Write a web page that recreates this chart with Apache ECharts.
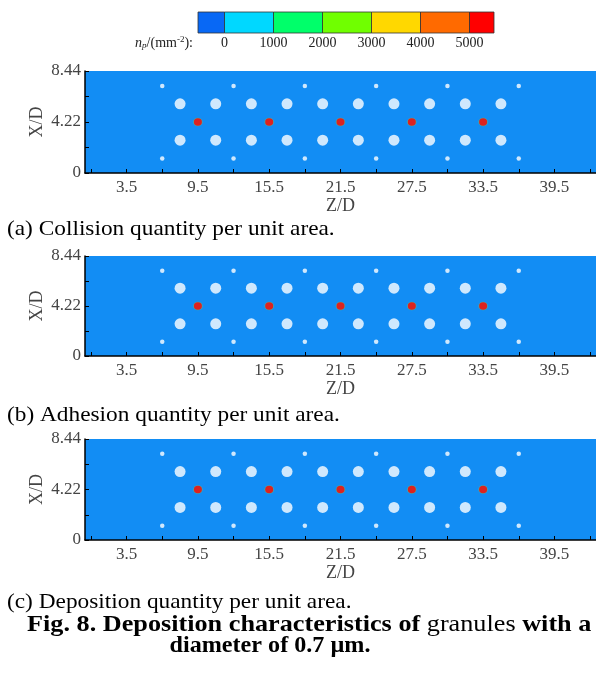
<!DOCTYPE html>
<html>
<head>
<meta charset="utf-8">
<script src="https://cdn.jsdelivr.net/npm/echarts@6/dist/echarts.min.js"></script>
<style>html,body{margin:0;padding:0;background:#fff;}#c{width:596px;height:677px;}</style>
</head>
<body>
<div id="c"></div>
<script>
// ---- data ----
const zTickLabels = [3.5, 9.5, 15.5, 21.5, 27.5, 33.5, 39.5];
const zTickMarks = [0.5, 3.5, 6.5, 9.5, 12.5, 15.5, 18.5, 21.5, 24.5, 27.5, 30.5, 33.5, 36.5, 39.5, 42.5];
const xTickLabels = [0, 4.22, 8.44];
const xTickMarks = [0, 2.11, 4.22, 6.33, 8.44];
const largeHoleZ = [8, 11, 14, 17, 20, 23, 26, 29, 32, 35];
const largeHoleX = [5.72, 2.72];
const smallHoleZ = [6.5, 12.5, 18.5, 24.5, 30.5, 36.5];
const smallHoleX = [7.2, 1.2];
const spotZ = [9.5, 15.5, 21.5, 27.5, 33.5];
const spotX = 4.22;
const collisionSpots = [5400, 5400, 5400, 5400, 5400];
const adhesionSpots = [5400, 5400, 5400, 5400, 5400];
const depositionSpots = [5400, 5400, 5400, 5400, 5400];
const legendLevels = [0, 1000, 2000, 3000, 4000, 5000];
const legendColors = ['#0868f5', '#00d8ff', '#00ff6a', '#70ff00', '#ffd800', '#ff6a00', '#ff0000'];
const panelCaptions = ['(a) Collision quantity per unit area.', '(b) Adhesion quantity per unit area.', '(c) Deposition quantity per unit area.'];

// ---- layout ----
const chart = echarts.init(document.getElementById('c'), null, {renderer: 'canvas'});
const tops = [71, 256, 439];
const heights = [102, 100, 101];
const panelSpots = [collisionSpots, adhesionSpots, depositionSpots];
const serif = '"Liberation Serif", "Times New Roman", serif';
const bg = '#128df4';

function colorFor(v) {
  if (v < legendLevels[0]) return legendColors[0];
  for (let i = legendLevels.length - 1; i >= 0; i--) if (v >= legendLevels[i]) return legendColors[i + 1];
  return legendColors[0];
}

const grid = [], xAxis = [], yAxis = [], series = [];
for (let i = 0; i < 3; i++) {
  grid.push({left: 85, top: tops[i], height: heights[i], width: 513, show: true, backgroundColor: bg, borderWidth: 0});
  xAxis.push({
    type: 'value', gridIndex: i, min: 0, max: 43,
    name: 'Z/D', nameLocation: 'middle', nameGap: 24, nameMoveOverlap: false,
    nameTextStyle: {fontFamily: serif, fontSize: 18, color: '#444'},
    axisLine: {show: true, onZero: false, lineStyle: {color: '#000', width: 1.5}},
    axisTick: {show: true, inside: true, length: 4, customValues: zTickMarks, lineStyle: {color: '#000', width: 1}},
    axisLabel: {show: true, customValues: zTickLabels, margin: 6, fontFamily: serif, fontSize: 17, color: '#444', formatter: v => String(v)},
    splitLine: {show: false}
  });
  yAxis.push({
    type: 'value', gridIndex: i, min: 0, max: 8.44,
    name: 'X/D', nameLocation: 'middle', nameRotate: 90, nameGap: 39, nameMoveOverlap: false,
    nameTextStyle: {fontFamily: serif, fontSize: 18, color: '#444'},
    axisLine: {show: true, onZero: false, lineStyle: {color: '#000', width: 1.5}},
    axisTick: {show: true, inside: true, length: 4, customValues: xTickMarks, lineStyle: {color: '#000', width: 1}},
    axisLabel: {show: true, customValues: xTickLabels, margin: 4, fontFamily: serif, fontSize: 17, color: '#444', formatter: v => String(v)},
    splitLine: {show: false}
  });
  const large = [], small = [];
  largeHoleX.forEach(x => largeHoleZ.forEach(z => large.push([z, x])));
  smallHoleX.forEach(x => smallHoleZ.forEach(z => small.push([z, x])));
  series.push({type: 'scatter', xAxisIndex: i, yAxisIndex: i, symbol: 'circle', symbolSize: 11, data: large, itemStyle: {color: '#ffffff'}, silent: true});
  series.push({type: 'scatter', xAxisIndex: i, yAxisIndex: i, symbol: 'circle', symbolSize: 4.5, data: small, itemStyle: {color: '#ffffff'}, silent: true});
  const spots = spotZ.map((z, k) => ({value: [z, spotX, panelSpots[i][k]]}));
  series.push({type: 'scatter', xAxisIndex: i, yAxisIndex: i, symbol: 'circle', symbolSize: [9.5, 8.5], data: spots, itemStyle: {color: '#8cc84a', opacity: 0.5}, silent: true});
  series.push({type: 'scatter', xAxisIndex: i, yAxisIndex: i, symbol: 'circle', symbolSize: [8, 7.5], data: spots, itemStyle: {color: p => colorFor(p.value[2])}, silent: true});
}

// ---- graphics: colour bar + captions ----
const graphic = [];
const barLeft = 198, barTop = 12, barH = 21;
const boxW = [26.5, 49, 49, 49, 49, 49, 24.5];
let bx = barLeft;
legendColors.forEach((c, k) => {
  graphic.push({type: 'rect', shape: {x: bx, y: barTop, width: boxW[k], height: barH}, style: {fill: c, stroke: '#333', lineWidth: 0.8}});
  if (k < legendLevels.length) {
    graphic.push({type: 'text', x: bx + boxW[k], y: 43, style: {text: String(legendLevels[k]), font: '14px ' + serif, fill: '#222', align: 'center', verticalAlign: 'middle'}});
  }
  bx += boxW[k];
});
graphic.push({type: 'text', x: 193, y: 43, style: {
  text: '{i|n}{sub|p}{t|/(mm}{sup|-2}{t|):}', align: 'right', verticalAlign: 'middle',
  rich: {
    i: {font: 'italic 14px ' + serif, fill: '#222'},
    sub: {font: 'italic 9px ' + serif, fill: '#222', padding: [6, 0, 0, 0]},
    t: {font: '14px ' + serif, fill: '#222'},
    sup: {font: '9px ' + serif, fill: '#222', padding: [0, 0, 6, 0]}
  }
}});
const capY = [229, 415, 602];
panelCaptions.forEach((t, k) => {
  graphic.push({type: 'text', x: 7, y: capY[k], scaleX: 1.06, style: {text: t, font: '22px ' + serif, fill: '#000', verticalAlign: 'middle'}});
});
graphic.push({type: 'text', x: 27, y: 625, scaleX: 1.14, style: {
  text: '{b|Fig. 8. Deposition characteristics of }{n|granules }{b|with a}', verticalAlign: 'middle',
  rich: {b: {font: 'bold 23px ' + serif, fill: '#000'}, n: {font: '23px ' + serif, fill: '#000'}}
}});
graphic.push({type: 'text', x: 270, y: 646, scaleX: 1.05, style: {text: 'diameter of 0.7 µm.', font: 'bold 23px ' + serif, fill: '#000', align: 'center', verticalAlign: 'middle'}});

chart.setOption({animation: false, grid, xAxis, yAxis, series, graphic});
</script>
</body>
</html>
